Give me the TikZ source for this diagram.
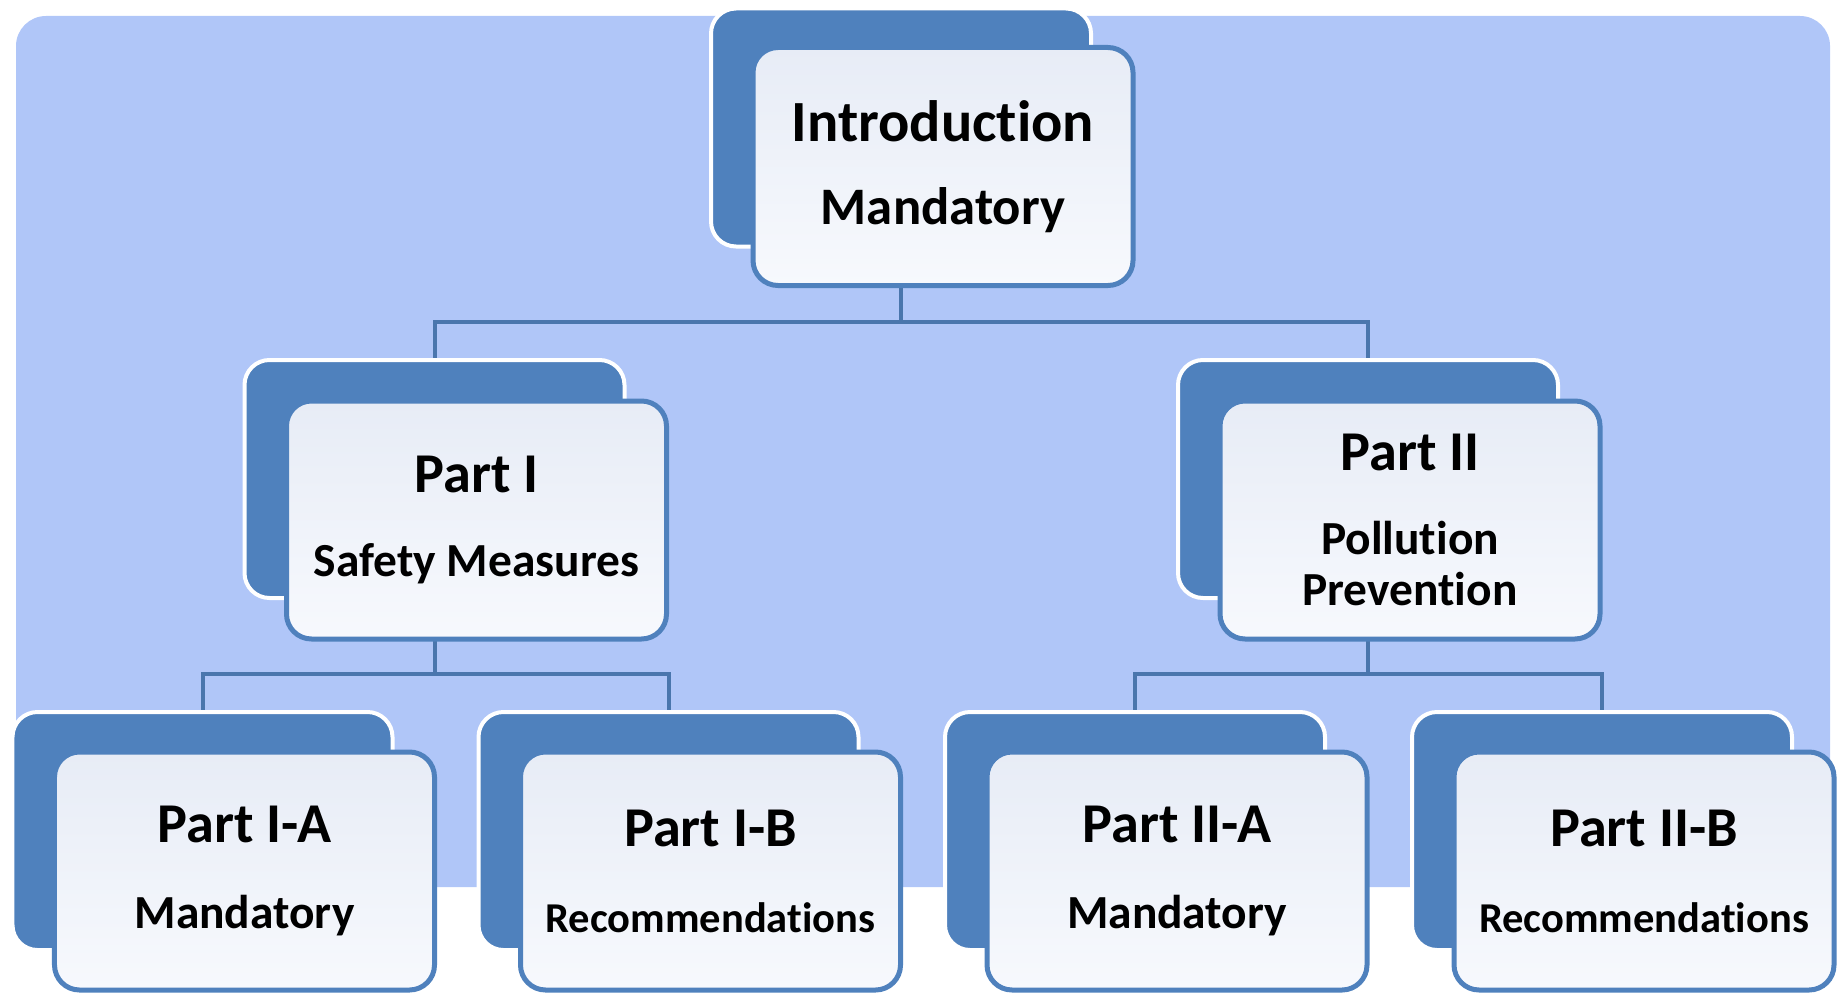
\documentclass[tikz,border=0pt]{standalone}
\usepackage{fontspec}
\setmainfont{Carlito}[Ligatures=NoCommon]
\usepackage{tikz}
\usetikzlibrary{positioning,backgrounds}

\definecolor{boxblue}{HTML}{4F81BD}
\definecolor{lineblue}{HTML}{4A76AD}
\definecolor{panelblue}{HTML}{B0C6F8}
\definecolor{frontlight}{HTML}{E7ECF6}
\definecolor{frontwhite}{HTML}{F7F9FD}

\newcommand{\titlesize}{\fontsize{16}{16}\selectfont}
\newcommand{\recsize}{\fontsize{12.1}{14}\selectfont}

\begin{document}
\begin{tikzpicture}[
  backbox/.style={draw=white, line width=0.04cm, fill=boxblue, rounded corners=0.25cm, minimum width=3.8cm, minimum height=2.38cm},
  frontbox/.style={draw=boxblue, line width=0.05cm, top color=frontlight, bottom color=frontwhite, rounded corners=0.25cm,
    minimum width=3.8cm, minimum height=2.38cm, align=center, font=\fontsize{13.5}{14.5}\selectfont\bfseries},
  conn/.style={draw=lineblue, line width=0.04cm}]
  \useasboundingbox (0,0) rectangle (18.45,9.95);

  % top level
  \node[backbox] (introback) at (9.01,8.675) {};
  \node[frontbox] (intro) at ([shift={(0.42,-0.39)}]introback.center) {{\fontsize{16.6}{16}\selectfont Introduction}\\[9pt] {\fontsize{15}{15}\selectfont Mandatory}};

  % second level
  \node[backbox] (partoneback) at (4.345,5.16) {};
  \node[frontbox] (partone) at ([shift={(0.42,-0.41)}]partoneback.center) {{\titlesize Part I}\\[9.5pt] Safety Measures};
  \node[backbox] (parttwoback) at (13.68,5.16) {};
  \node[frontbox] (parttwo) at ([shift={(0.42,-0.41)}]parttwoback.center) {{\titlesize Part II}\\[9.5pt] Pollution\\ Prevention};

  % third level
  \node[backbox] (oneaback) at (2.025,1.64) {};
  \node[frontbox] (onea) at ([shift={(0.42,-0.40)}]oneaback.center) {{\titlesize Part I-A}\\[10pt] Mandatory};
  \node[backbox] (onebback) at (6.685,1.64) {};
  \node[frontbox] (oneb) at ([shift={(0.42,-0.40)}]onebback.center) {{\titlesize Part I-B}\\[10pt] {\recsize Recommendations}};
  \node[backbox] (twoaback) at (11.35,1.64) {};
  \node[frontbox] (twoa) at ([shift={(0.42,-0.40)}]twoaback.center) {{\titlesize Part II-A}\\[10pt] Mandatory};
  \node[backbox] (twobback) at (16.02,1.64) {};
  \node[frontbox] (twob) at ([shift={(0.42,-0.40)}]twobback.center) {{\titlesize Part II-B}\\[10pt] {\recsize Recommendations}};

  \begin{scope}[on background layer]
    \fill[panelblue, rounded corners=0.3cm] (0.16,1.08) rectangle (18.30,9.79);
    \draw[conn] (introback.south) -- ++(0,-0.73) -| (partoneback.north);
    \draw[conn] (introback.south) -- ++(0,-0.73) -| (parttwoback.north);
    \draw[conn] (partoneback.south) -- ++(0,-0.74) -| (oneaback.north);
    \draw[conn] (partoneback.south) -- ++(0,-0.74) -| (onebback.north);
    \draw[conn] (parttwoback.south) -- ++(0,-0.74) -| (twoaback.north);
    \draw[conn] (parttwoback.south) -- ++(0,-0.74) -| (twobback.north);
  \end{scope}
\end{tikzpicture}
\end{document}
